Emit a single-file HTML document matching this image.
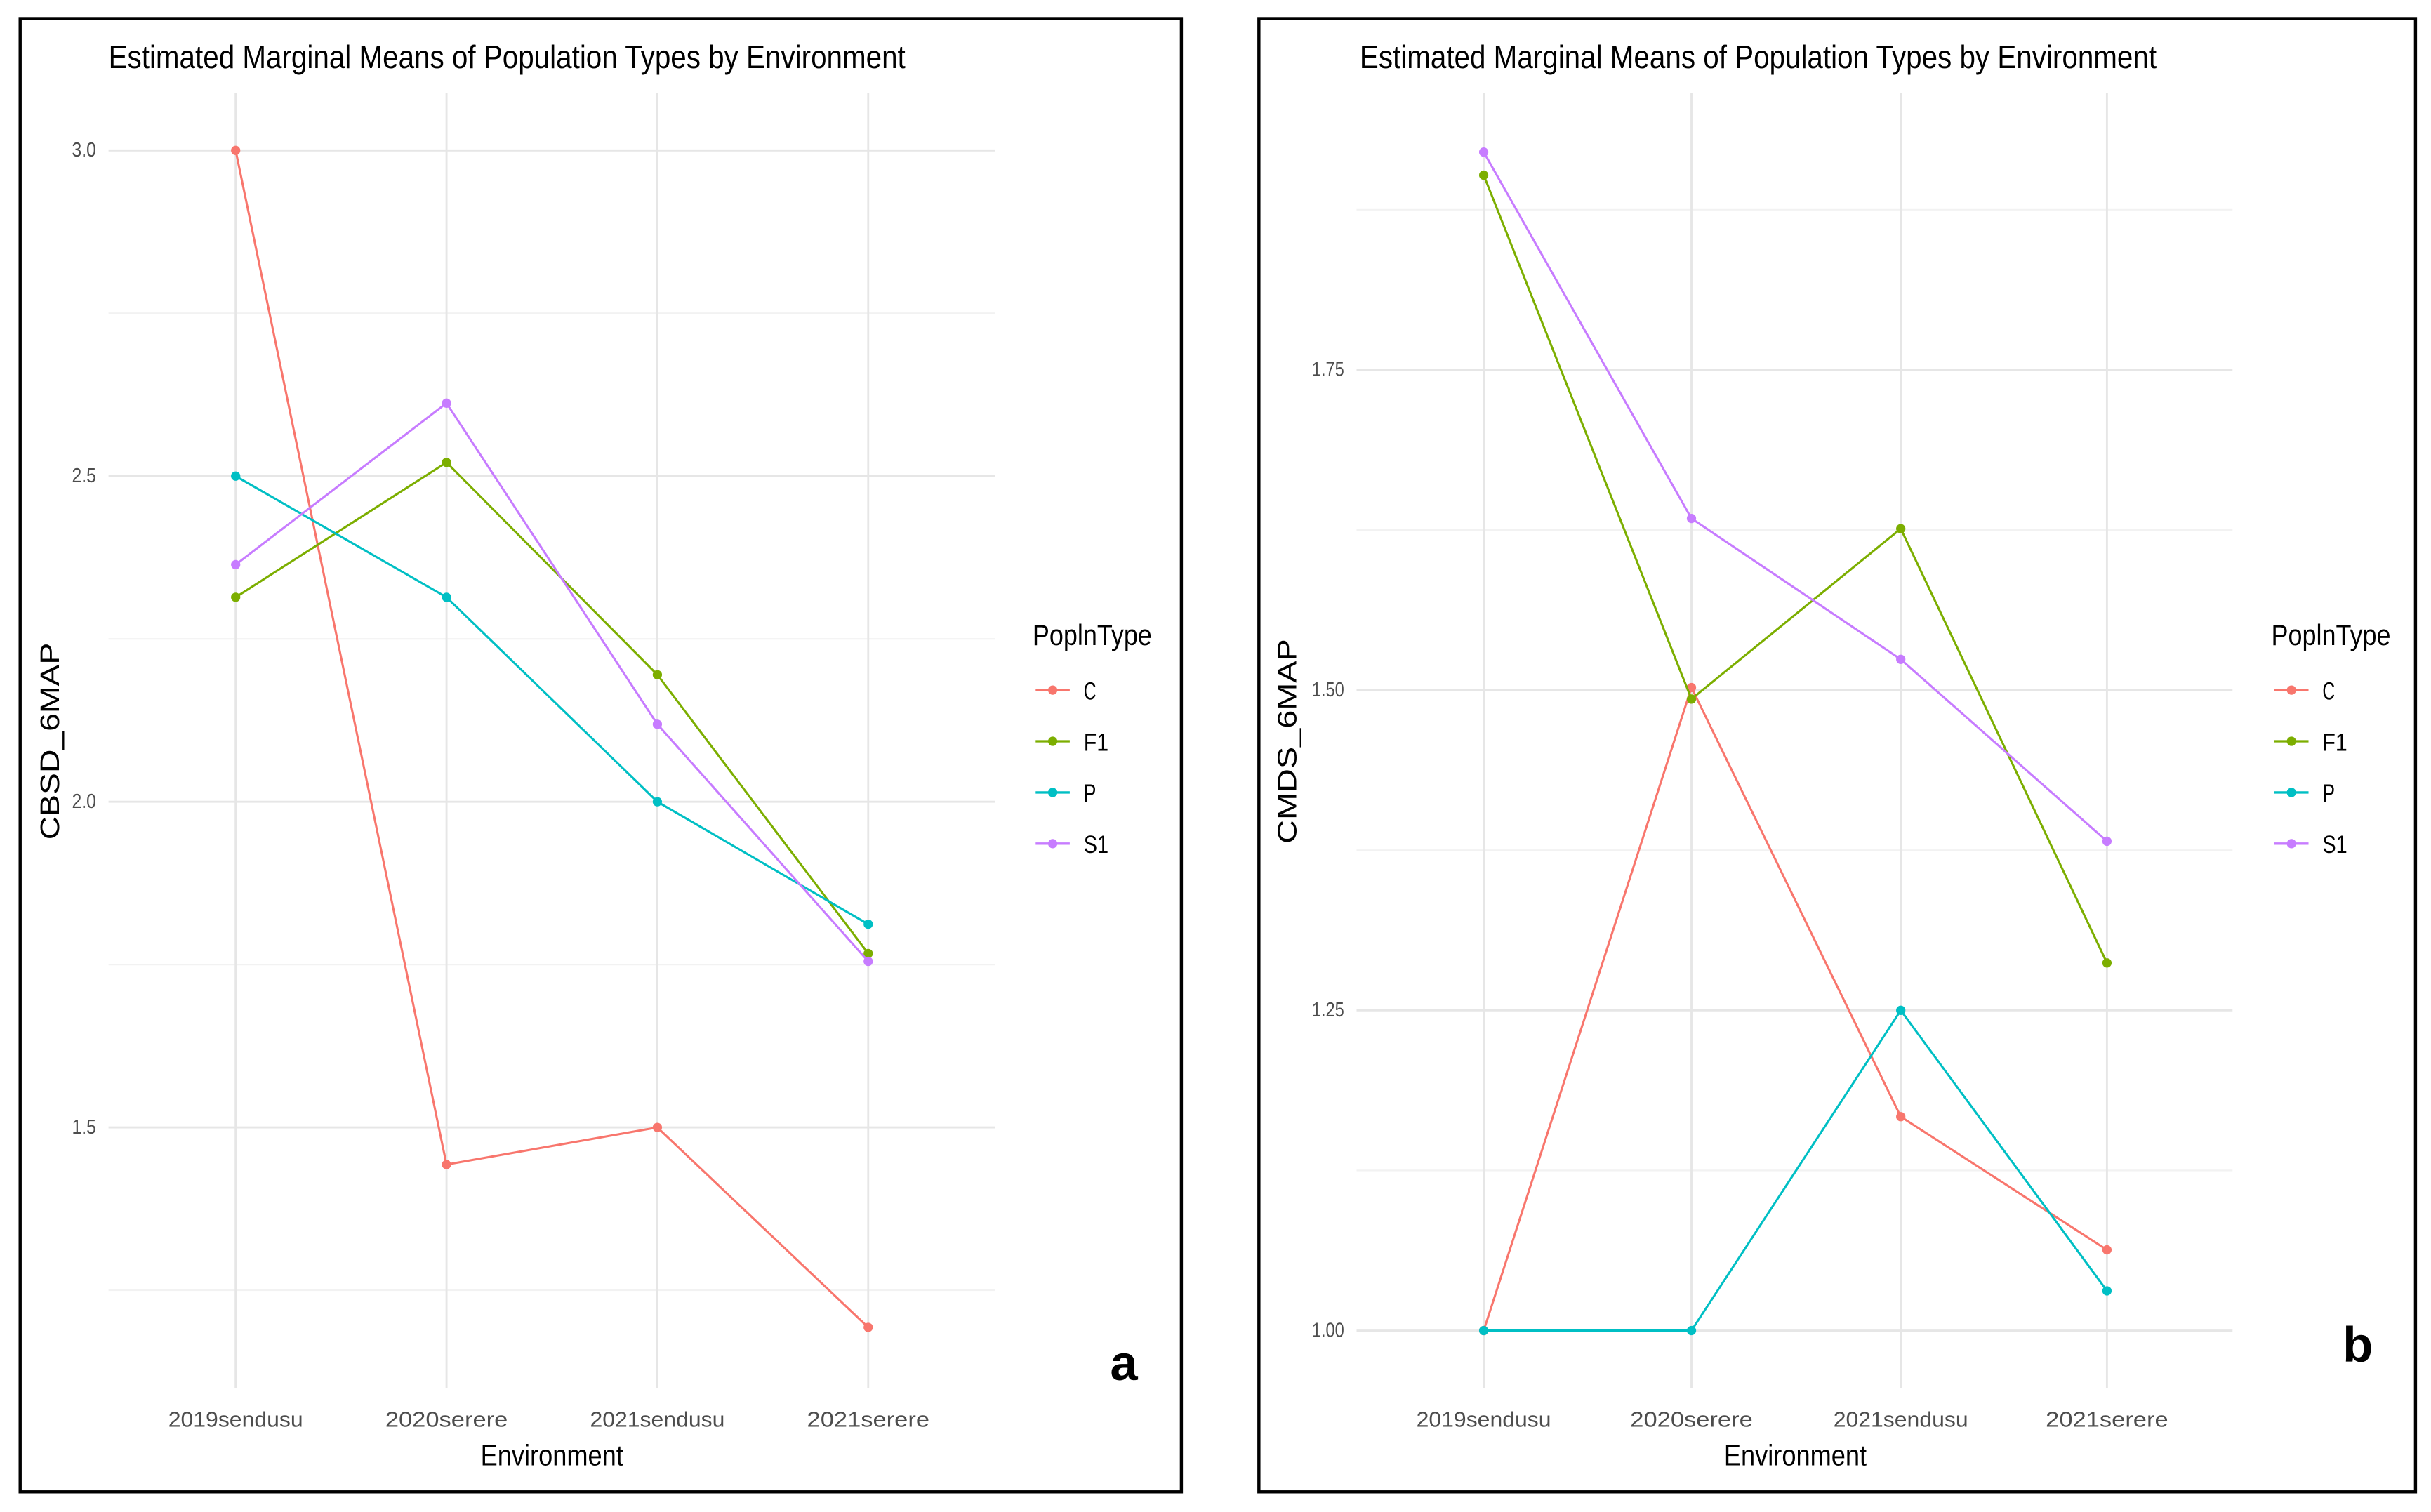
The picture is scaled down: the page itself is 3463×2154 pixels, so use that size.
<!DOCTYPE html>
<html><head><meta charset="utf-8">
<style>
html,body{margin:0;padding:0;background:#fff;}
svg{display:block;}
text{font-family:"Liberation Sans Narrow","Liberation Sans",sans-serif;}
</style></head>
<body>
<svg id="chart" width="3463" height="2154" viewBox="0 0 1568 975" preserveAspectRatio="none" xmlns="http://www.w3.org/2000/svg">
<rect x="0" y="0" width="1568" height="975" fill="#fff"/>
</svg>
<script>
const categories = ["2019sendusu","2020serere","2021sendusu","2021serere"];
const seriesNames = ["C","F1","P","S1"];
const colors = ["#F8766D","#7CAE00","#00BFC4","#C77CFF"];
// Panel a values (CBSD_6MAP)
const aC  = [3.0, 1.443, 1.5, 1.193];
const aF1 = [2.314, 2.521, 2.195, 1.767];
const aP  = [2.5, 2.314, 2.0, 1.812];
const aS1 = [2.364, 2.612, 2.119, 1.755];
const aTicks = [1.5, 2.0, 2.5, 3.0];
const aTickLabels = ["1.5","2.0","2.5","3.0"];
const aMinor = [1.25, 1.75, 2.25, 2.75];
// Panel b values (CMDS_6MAP)
const bC  = [1.0, 1.502, 1.167, 1.063];
const bF1 = [1.902, 1.493, 1.626, 1.287];
const bP  = [1.0, 1.0, 1.25, 1.031];
const bS1 = [1.920, 1.634, 1.524, 1.382];
const bTicks = [1.0, 1.25, 1.5, 1.75];
const bTickLabels = ["1.00","1.25","1.50","1.75"];
const bMinor = [1.125, 1.375, 1.625, 1.875];

const svg = document.getElementById('chart');
const NS = "http://www.w3.org/2000/svg";
function mk(tag, attrs, parent){
  const e = document.createElementNS(NS, tag);
  for (const k in attrs) e.setAttribute(k, attrs[k]);
  (parent||svg).appendChild(e);
  return e;
}

function panel(cfg){
  const g = mk('g', {});
  
  
  const border = mk('rect', {x:cfg.bx, y:12, width:cfg.bw, height:950, fill:'none', stroke:'#000', 'stroke-width':2}, g);
  
  
  const yScale = v => cfg.y0 + (v - cfg.v0) * cfg.k;
  const xScale = i => cfg.xs[i];
  cfg.minor.forEach(v => {
    const l = mk('line', {x1:cfg.gx0, x2:cfg.gx1, y1:yScale(v), y2:yScale(v), stroke:'#F2F2F2', 'stroke-width':1}, g);
    
    
  });
  cfg.ticks.forEach((v, i) => {
    const l = mk('line', {x1:cfg.gx0, x2:cfg.gx1, y1:yScale(v), y2:yScale(v), stroke:'#E6E6E6', 'stroke-width':1.3}, g);
    
    
    const t = mk('text', {x:cfg.gx0 - 8, y:yScale(v) + 4, 'text-anchor':'end', 'font-size':13, fill:'#4D4D4D', textLength:cfg.tickLabels[i].length * 5.2, lengthAdjust:'spacingAndGlyphs'}, g);
    t.textContent = cfg.tickLabels[i];
    
    
  });
  categories.forEach((c, i) => {
    const l = mk('line', {x1:xScale(i), x2:xScale(i), y1:60, y2:895, stroke:'#E6E6E6', 'stroke-width':1.3}, g);
    
    
    const t = mk('text', {x:xScale(i), y:920, 'text-anchor':'middle', 'font-size':14, fill:'#4D4D4D', textLength:c.length * 7.9, lengthAdjust:'spacingAndGlyphs'}, g);
    t.textContent = c;
    
    
  });
  cfg.series.forEach((vals, si) => {
    const pts = vals.map((v, i) => xScale(i) + ',' + yScale(v)).join(' ');
    const pl = mk('polyline', {points:pts, fill:'none', stroke:colors[si], 'stroke-width':1.4}, g);
    
    
    vals.forEach((v, i) => {
      const c = mk('circle', {cx:xScale(i), cy:yScale(v), r:3, fill:colors[si]}, g);
      
      
    });
  });
  const title = mk('text', {x:cfg.titleX, y:44, 'font-size':21, fill:'#000', textLength:514, lengthAdjust:'spacingAndGlyphs'}, g);
  title.textContent = 'Estimated Marginal Means of Population Types by Environment';
  
  
  const xt = mk('text', {x:cfg.xTitleX, y:945, 'text-anchor':'middle', 'font-size':19, fill:'#000', textLength:92, lengthAdjust:'spacingAndGlyphs'}, g);
  xt.textContent = 'Environment';
  
  
  const yt = mk('text', {x:0, y:0, 'text-anchor':'middle', 'font-size':17, fill:'#000', textLength:cfg.yTitleLen, lengthAdjust:'spacingAndGlyphs', transform:'translate(' + cfg.yTitleX + ',478) rotate(-90)'}, g);
  yt.textContent = cfg.yTitle;
  
  
  const lg = mk('g', {}, g);
  
  
  const lt = mk('text', {x:cfg.lx - 2, y:416, 'font-size':19, fill:'#000', textLength:77, lengthAdjust:'spacingAndGlyphs'}, lg);
  lt.textContent = 'PoplnType';
  
  
  seriesNames.forEach((n, i) => {
    const yy = 445 + i * 33;
    const ll = mk('line', {x1:cfg.lx, x2:cfg.lx + 22, y1:yy, y2:yy, stroke:colors[i], 'stroke-width':1.5}, lg);
    
    
    const lc = mk('circle', {cx:cfg.lx + 11, cy:yy, r:3, fill:colors[i]}, lg);
    
    
    const tx = mk('text', {x:cfg.lx + 31, y:yy + 6, 'font-size':16, fill:'#000', textLength:n.length * 8, lengthAdjust:'spacingAndGlyphs'}, lg);
    tx.textContent = n;
    
    
  });
  const pl = mk('text', {x:cfg.panelLetterX, y:cfg.panelLetterY, 'font-size':32, 'font-weight':'bold', fill:'#000', 'font-family':'Liberation Sans, sans-serif'}, g);
  pl.textContent = cfg.letter;
  
  
}

panel({name:'panel-a', bx:13, bw:749, gx0:70, gx1:642, xs:[152,288,424,560],
  v0:3.0, y0:97, k:-420, ticks:aTicks, tickLabels:aTickLabels, minor:aMinor,
  series:[aC,aF1,aP,aS1], titleX:70, xTitleX:356, yTitleX:38, yTitle:'CBSD_6MAP', yTitleLen:127,
  lx:668, letter:'a', panelLetterX:716, panelLetterY:890});
panel({name:'panel-b', bx:812, bw:746, gx0:875, gx1:1440, xs:[957,1091,1226,1359],
  v0:1.0, y0:858, k:-826, ticks:bTicks, tickLabels:bTickLabels, minor:bMinor,
  series:[bC,bF1,bP,bS1], titleX:877, xTitleX:1158, yTitleX:836, yTitle:'CMDS_6MAP', yTitleLen:132,
  lx:1467, letter:'b', panelLetterX:1511, panelLetterY:878});
</script>
</body></html>
